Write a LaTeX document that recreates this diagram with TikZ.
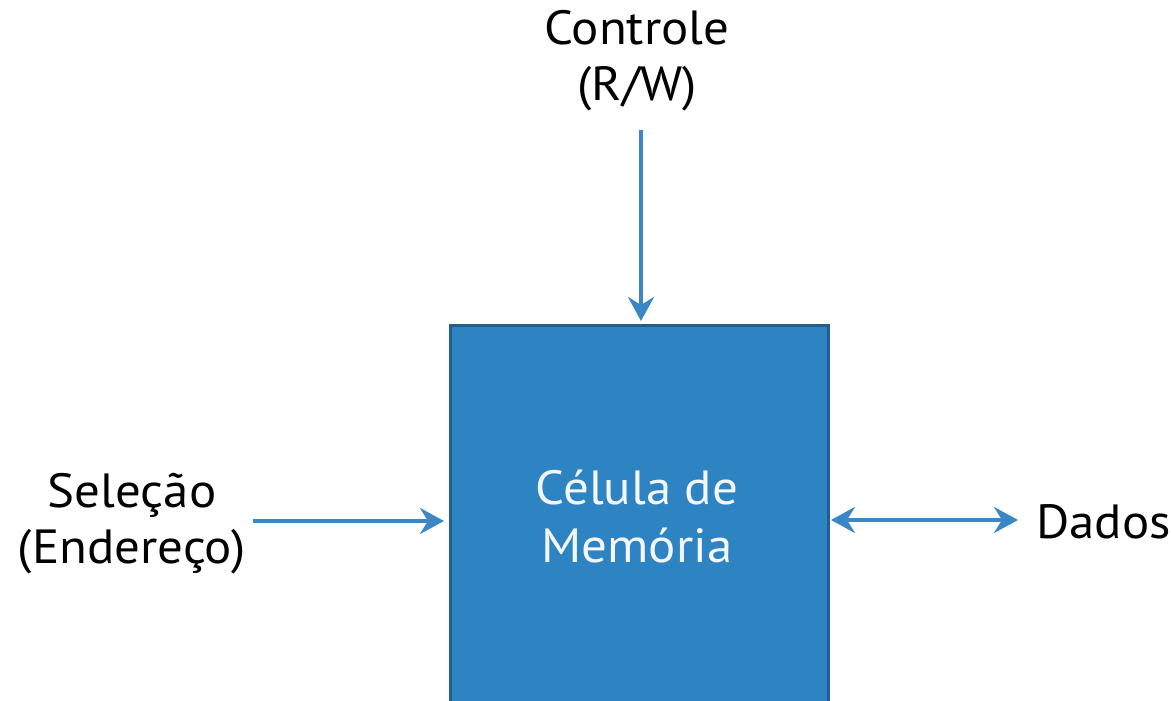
\documentclass[tikz,border=0pt]{standalone}
\usepackage{fontspec}
\setmainfont{PT Sans}[FakeStretch=1.06]
\usetikzlibrary{arrows.meta}
\definecolor{cellfill}{HTML}{2E83C3}
\definecolor{celledge}{HTML}{245E8E}
\definecolor{arrowblue}{HTML}{3A87C8}
\definecolor{celltext}{HTML}{F4F7FA}
\tikzset{
  lbl/.style={font=\fontsize{48}{56}\selectfont, text=black, align=center, inner sep=0pt},
  celllbl/.style={font=\fontsize{48}{58}\selectfont, text=celltext, align=center, inner sep=0pt},
  cellbox/.style={draw=celledge, line width=3pt, fill=cellfill, anchor=north west, inner sep=0pt},
  arr/.style={draw=arrowblue, line width=4pt, -{Stealth[length=24pt,width=26pt,inset=8pt]}},
  biarr/.style={draw=arrowblue, line width=4pt, {Stealth[length=24pt,width=26pt,inset=8pt]}-{Stealth[length=24pt,width=26pt,inset=8pt]}}
}
\begin{document}
\begin{tikzpicture}[x=1pt,y=-1pt]
\useasboundingbox (0,0) rectangle (1171,701);
\clip (0,0) rectangle (1171,701);
\node[cellbox, minimum width=378pt, minimum height=420pt] (cell) at (449,324) {};
\node[celllbl] (celltxt) at (637,517) {Célula de\\Memória};
\node[lbl] (ctrl) at (637,61) {Controle\\(R/W)};
\node[lbl] (sel) at (132,524) {Seleção\\(Endereço)};
\node[lbl, anchor=west] (dados) at (1036,522) {Dados};
\coordinate (ctrlend) at (641,130);
\coordinate (ctrltip) at (641,321);
\coordinate (selstart) at (253,521);
\coordinate (seltip) at (444,521);
\coordinate (dleft) at (831,520);
\coordinate (dright) at (1018,520);
\draw[arr] (ctrlend) -- (ctrltip);
\draw[arr] (selstart) -- (seltip);
\draw[biarr] (dleft) -- (dright);
\end{tikzpicture}
\end{document}
